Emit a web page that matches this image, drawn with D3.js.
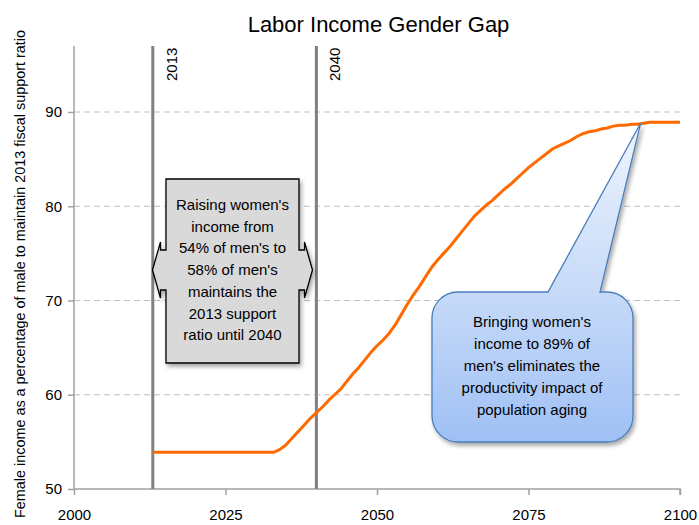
<!DOCTYPE html>
<html><head><meta charset="utf-8">
<script src="https://cdn.jsdelivr.net/npm/d3@7"></script>
<style>body{margin:0;background:#fff}svg{display:block}text{font-family:"Liberation Sans",Arial,sans-serif}</style>
</head><body>
<svg id="c" width="699" height="525"></svg>
<script>
const years = [2013,2033,2034,2035,2036,2037,2038,2039,2040,2041,2042,2043,2044,2045,2046,2047,2048,2049,2050,2051,2052,2053,2054,2055,2056,2057,2058,2059,2060,2061,2062,2063,2064,2065,2066,2067,2068,2069,2070,2071,2072,2073,2074,2075,2076,2077,2078,2079,2080,2081,2082,2083,2084,2085,2086,2087,2088,2089,2090,2091,2092,2093,2094,2095,2100];
const values = [53.9,53.9,54.2,54.7,55.4,56.1,56.8,57.5,58.1,58.7,59.4,60.0,60.6,61.4,62.2,62.9,63.7,64.5,65.2,65.8,66.5,67.4,68.5,69.6,70.6,71.5,72.5,73.5,74.3,75.0,75.7,76.5,77.3,78.1,78.9,79.5,80.1,80.6,81.2,81.8,82.3,82.9,83.5,84.1,84.6,85.1,85.6,86.1,86.4,86.7,87.0,87.4,87.7,87.9,88.0,88.2,88.3,88.5,88.6,88.6,88.7,88.7,88.8,88.9,88.9];
const xTicks = [2000,2025,2050,2075,2100];
const yTicks = [50,60,70,80,90];
const markerYears = [2013,2040];
const title = "Labor Income Gender Gap";
const yLabel = "Female income as a percentage of male to maintain 2013 fiscal support ratio";
const leftNote = ["Raising women's","income from","54% of men's to","58% of men's","maintains the","2013 support","ratio until 2040"];
const rightNote = ["Bringing women's","income to 89% of","men's eliminates the","productivity impact of","population aging"];
const noteTarget = {year:2093.5, value:88.8};

const svg = d3.select("#c");
const x = d3.scaleLinear().domain([2000,2100]).range([74,680]);
const y = d3.scaleLinear().domain([50,97]).range([489,46]);

const defs = svg.append("defs");
const f = defs.append("filter").attr("id","sh").attr("x","-20%").attr("y","-20%").attr("width","140%").attr("height","140%");
f.append("feDropShadow").attr("dx",2).attr("dy",3).attr("stdDeviation",2).attr("flood-color","#000").attr("flood-opacity",0.35);
const g = defs.append("linearGradient").attr("id","bg").attr("x1",0).attr("y1",0).attr("x2",0).attr("y2",1);
g.append("stop").attr("offset","0%").attr("stop-color","#eef4fd");
g.append("stop").attr("offset","55%").attr("stop-color","#c5d9f8");
g.append("stop").attr("offset","100%").attr("stop-color","#9fc0f5");

// title
svg.append("text").attr("x",378.5).attr("y",32).attr("text-anchor","middle").attr("font-size",22).attr("fill","#000").text(title);

// gridlines
svg.append("g").selectAll("line").data(yTicks.filter(d=>d>50)).join("line")
  .attr("x1",x(2000)).attr("x2",x(2100)).attr("y1",d=>y(d)).attr("y2",d=>y(d))
  .attr("stroke","#c0c0c0").attr("stroke-width",1.2).attr("stroke-dasharray","6,4");

// y axis
const ya = svg.append("g").attr("transform",`translate(${x(2000)},0)`).call(d3.axisLeft(y).tickValues(yTicks).tickSize(6).tickPadding(6));
ya.select(".domain").remove();
ya.append("line").attr("x1",0).attr("x2",0).attr("y1",46).attr("y2",489).attr("stroke","#a0a0a0").attr("stroke-width",1.5);
ya.selectAll(".tick line").attr("stroke","#a0a0a0").attr("stroke-width",1.5);
ya.selectAll(".tick text").attr("font-size",15).attr("fill","#000").attr("font-family","Liberation Sans, Arial, sans-serif");

// x axis
const xa = svg.append("g").attr("transform",`translate(0,${y(50)})`).call(d3.axisBottom(x).tickValues(xTicks).tickFormat(d3.format("d")).tickSize(6).tickPadding(14));
xa.select(".domain").attr("stroke","#a0a0a0").attr("stroke-width",1.5).attr("d",`M${x(2000)},0H${x(2100)}V6`);
xa.selectAll(".tick line").attr("stroke","#a0a0a0").attr("stroke-width",1.5);
xa.selectAll(".tick text").attr("font-size",15).attr("fill","#000").attr("font-family","Liberation Sans, Arial, sans-serif");

// y label
svg.append("text").attr("transform",`translate(25,274) rotate(-90)`).attr("text-anchor","middle")
  .attr("font-size",15).attr("textLength",488).attr("lengthAdjust","spacingAndGlyphs").attr("fill","#000").text(yLabel);

// marker lines
markerYears.forEach(yr=>{
  svg.append("line").attr("x1",x(yr)).attr("x2",x(yr)).attr("y1",46).attr("y2",489).attr("stroke","#808080").attr("stroke-width",3);
  svg.append("text").attr("transform",`translate(${x(yr)+24},81) rotate(-90)`).attr("font-size",15).attr("fill","#000").text(yr);
});

// data line
const data = years.map((d,i)=>({year:d,value:values[i]}));
svg.append("path").datum(data).attr("fill","none").attr("stroke","#ff6a00").attr("stroke-width",3).attr("stroke-linejoin","round")
  .attr("d",d3.line().x(d=>x(d.year)).y(d=>y(d.value)));

// left double-arrow callout
(function(){
  const L=166,R=299,T=179,B=363,h1=250,h2=290,ht=242,hb=298,cy=270,n=5.5,tip=13.5;
  const p = d3.path();
  p.moveTo(L,T); p.lineTo(R,T); p.lineTo(R,h1); p.lineTo(R+n,h1); p.lineTo(R+n,ht); p.lineTo(R+tip,cy);
  p.lineTo(R+n,hb); p.lineTo(R+n,h2); p.lineTo(R,h2); p.lineTo(R,B); p.lineTo(L,B); p.lineTo(L,h2);
  p.lineTo(L-n,h2); p.lineTo(L-n,hb); p.lineTo(L-tip,cy); p.lineTo(L-n,ht); p.lineTo(L-n,h1); p.lineTo(L,h1); p.closePath();
  svg.append("path").attr("d",p.toString()).attr("fill","#d9d9d9").attr("stroke","#000").attr("stroke-width",1.3).attr("filter","url(#sh)");
  svg.append("g").selectAll("text").data(leftNote).join("text").attr("x",(L+R)/2).attr("y",(d,i)=>210+i*21.7)
    .attr("text-anchor","middle").attr("font-size",15).attr("fill","#000").text(d=>d);
})();

// right speech-bubble callout
(function(){
  const L=432,R=633,T=292,B=442,r=26,p1=548,p2=600;
  const tx=x(noteTarget.year), ty=y(noteTarget.value);
  const p = d3.path();
  p.moveTo(L+r,T); p.lineTo(p1,T); p.lineTo(tx,ty); p.lineTo(p2,T); p.lineTo(R-r,T);
  p.arcTo(R,T,R,T+r,r); p.lineTo(R,B-r); p.arcTo(R,B,R-r,B,r); p.lineTo(L+r,B); p.arcTo(L,B,L,B-r,r);
  p.lineTo(L,T+r); p.arcTo(L,T,L+r,T,r); p.closePath();
  svg.append("path").attr("d",p.toString()).attr("fill","url(#bg)").attr("stroke","#4a7ebb").attr("stroke-width",1.3).attr("filter","url(#sh)");
  svg.append("g").selectAll("text").data(rightNote).join("text").attr("x",532).attr("y",(d,i)=>327+i*22)
    .attr("text-anchor","middle").attr("font-size",15).attr("fill","#000").text(d=>d);
})();
</script>
</body></html>
